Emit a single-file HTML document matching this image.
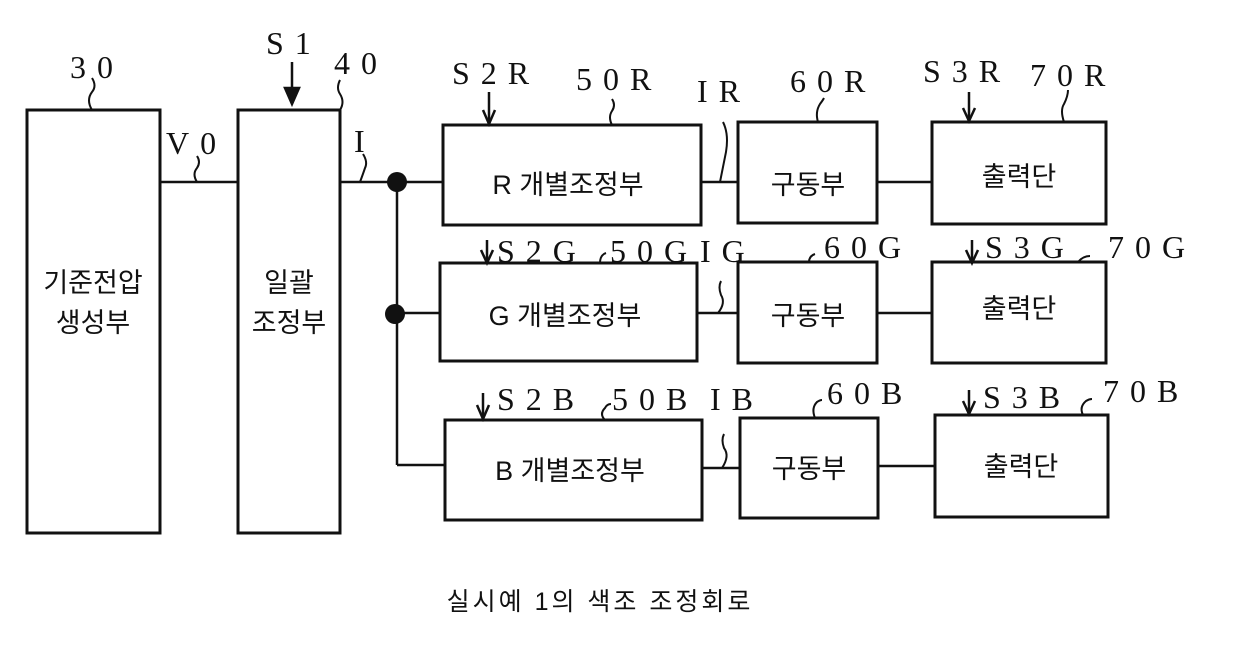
<!DOCTYPE html>
<html><head><meta charset="utf-8"><style>
body{margin:0;background:#fff;width:1240px;height:660px;overflow:hidden}
svg text{font-family:"Liberation Serif","Noto Serif CJK SC",serif;fill:#111}
.k{font-family:"Liberation Sans","Noto Sans CJK KR",sans-serif;font-size:27px}
.l{font-size:32px;letter-spacing:11px}
</style></head><body>
<svg width="1240" height="660" viewBox="0 0 1240 660" fill="none" stroke="#111" stroke-width="3">
<rect x="27" y="110" width="133" height="423"/>
<rect x="238" y="110" width="102" height="423"/>
<rect x="443" y="125" width="258" height="100"/>
<rect x="440" y="263" width="257" height="98"/>
<rect x="445" y="420" width="257" height="100"/>
<rect x="738" y="122" width="139" height="101"/>
<rect x="738" y="262" width="139" height="101"/>
<rect x="740" y="418" width="138" height="100"/>
<rect x="932" y="122" width="174" height="102"/>
<rect x="932" y="262" width="174" height="101"/>
<rect x="935" y="415" width="173" height="102"/>
<g stroke-width="2.5">
<line x1="160" y1="182" x2="238" y2="182"/>
<line x1="340" y1="182" x2="443" y2="182"/>
<line x1="397" y1="182" x2="397" y2="465"/>
<line x1="397" y1="313" x2="440" y2="313"/>
<line x1="397" y1="465" x2="445" y2="465"/>
<line x1="701" y1="182" x2="738" y2="182"/>
<line x1="697" y1="313" x2="738" y2="313"/>
<line x1="702" y1="468" x2="740" y2="468"/>
<line x1="877" y1="182" x2="932" y2="182"/>
<line x1="877" y1="313" x2="932" y2="313"/>
<line x1="878" y1="466" x2="935" y2="466"/>
</g>
<circle cx="397" cy="182" r="10" fill="#111" stroke="none"/>
<circle cx="395" cy="314" r="10" fill="#111" stroke="none"/>
<g stroke-width="2">
<path d="M92 110 q-6-10 0-18 q5-6 0-14"/>
<path d="M197 182 q-5-8 0-14 q4-6 0-12"/>
<path d="M340 110 q5-8 0-16 q-4-6 0-14"/>
<path d="M360 182 q3-8 5-14 q3-6-2-14"/>
<path d="M612 125 q-4-8 0-14 q4-6 0-12"/>
<path d="M720 182 q4-20 6-30 q3-18-3-30"/>
<path d="M818 122 q-3-10 2-18 q3-4 4-6"/>
<path d="M1064 122 q-4-12 0-18 q4-8 4-14"/>
<path d="M718 313 q8-10 3-18 q-3-8 0-14"/>
<path d="M722 468 q8-12 2-20 q-3-8 0-14"/>
<path d="M809 262 q0-6 6-8"/>
<path d="M1078 262 q5-6 12-6"/>
<path d="M600 263 q0-8 6-10"/>
<path d="M605 420 q-6-6 0-12 q2-4 6-4"/>
<path d="M815 418 q-4-10 2-16 q3-2 5-2"/>
<path d="M1083 415 q-4-8 3-14 q3-2 6-2"/>
</g>
<g stroke-width="2.5">
<line x1="292" y1="62" x2="292" y2="100"/><path d="M285 88 L292 104 L299 88 Z" fill="#111"/>
<line x1="489" y1="92" x2="489" y2="123"/><path d="M483 110 L489 124 L495 110" />
<line x1="969" y1="92" x2="969" y2="120"/><path d="M963 108 L969 121 L975 108"/>
<line x1="487" y1="240" x2="487" y2="262"/><path d="M481 250 L487 263 L493 250"/>
<line x1="972" y1="240" x2="972" y2="262"/><path d="M966 250 L972 263 L978 250"/>
<line x1="483" y1="393" x2="483" y2="419"/><path d="M477 405 L483 419 L489 405"/>
<line x1="969" y1="390" x2="969" y2="414"/><path d="M963 401 L969 414 L975 401"/>
</g>
<g stroke="none">
<text class="l" x="70" y="78">30</text>
<text class="l" x="266" y="54">S1</text>
<text class="l" x="334" y="74">40</text>
<text class="l" x="166" y="154">V0</text>
<text class="l" x="354" y="152">I</text>
<text class="l" x="452" y="84">S2R</text>
<text class="l" x="576" y="90">50R</text>
<text class="l" x="697" y="102">IR</text>
<text class="l" x="790" y="92">60R</text>
<text class="l" x="923" y="82">S3R</text>
<text class="l" x="1030" y="86">70R</text>
<text class="l" x="497" y="262">S2G</text>
<text class="l" x="610" y="262">50G</text>
<text class="l" x="700" y="262">IG</text>
<text class="l" x="824" y="258">60G</text>
<text class="l" x="985" y="258">S3G</text>
<text class="l" x="1108" y="258">70G</text>
<text class="l" x="497" y="410">S2B</text>
<text class="l" x="612" y="410">50B</text>
<text class="l" x="710" y="410">IB</text>
<text class="l" x="827" y="404">60B</text>
<text class="l" x="983" y="408">S3B</text>
<text class="l" x="1103" y="402">70B</text>
<text class="k" x="93" y="292" text-anchor="middle">기준전압</text>
<text class="k" x="93" y="332" text-anchor="middle">생성부</text>
<text class="k" x="289" y="292" text-anchor="middle">일괄</text>
<text class="k" x="289" y="332" text-anchor="middle">조정부</text>
<text class="k" x="568" y="194" text-anchor="middle">R 개별조정부</text>
<text class="k" x="565" y="325" text-anchor="middle">G 개별조정부</text>
<text class="k" x="570" y="480" text-anchor="middle">B 개별조정부</text>
<text class="k" x="808" y="194" text-anchor="middle">구동부</text>
<text class="k" x="808" y="325" text-anchor="middle">구동부</text>
<text class="k" x="809" y="478" text-anchor="middle">구동부</text>
<text class="k" x="1019" y="186" text-anchor="middle">출력단</text>
<text class="k" x="1019" y="318" text-anchor="middle">출력단</text>
<text class="k" x="1021" y="476" text-anchor="middle">출력단</text>
<text class="k" x="600" y="610" text-anchor="middle" style="font-size:25px;letter-spacing:3px">실시예 1의 색조 조정회로</text>
</g>
</svg>
</body></html>
